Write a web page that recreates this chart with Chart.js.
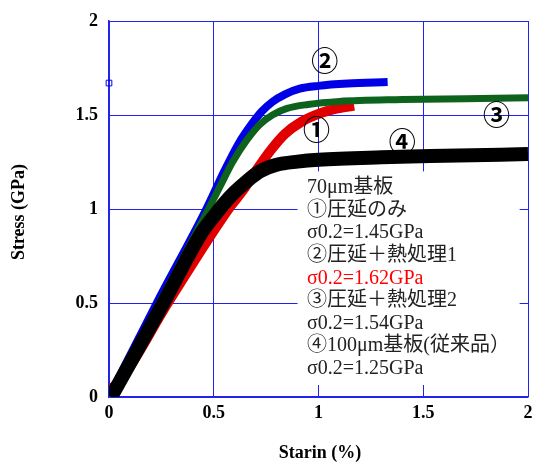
<!DOCTYPE html>
<html>
<head>
<meta charset="utf-8">
<script src="https://cdn.jsdelivr.net/npm/chart.js"></script>
<style>
  html, body { margin: 0; padding: 0; background: #fff; }
  #wrap { width: 533px; height: 462px; }
</style>
</head>
<body>
<div id="wrap"><canvas id="ss-chart"></canvas></div>

<script>
// stress-strain curves, [strain %, stress GPa]
var curve1 = [[0,0.04],[0.04,0.07],[0.28,0.5],[0.57,1.0],[0.64,1.1],[0.70,1.2],[0.77,1.31],[0.84,1.4],[0.92,1.465],[1.01,1.51],[1.09,1.535],[1.17,1.55]];
var curve2 = [[0,0],[0.228,0.5],[0.465,1.0],[0.55,1.2],[0.62,1.35],[0.68,1.45],[0.73,1.52],[0.78,1.57],[0.84,1.61],[0.91,1.64],[1.0,1.655],[1.14,1.667],[1.33,1.675]];
var curve3 = [[0.005,0],[0.24,0.5],[0.475,1.0],[0.53,1.12],[0.59,1.25],[0.66,1.37],[0.72,1.45],[0.78,1.5],[0.85,1.535],[0.95,1.556],[1.1,1.572],[1.4,1.582],[1.7,1.587],[2.0,1.592]];
var curve4 = [[0.01,0],[0.26,0.5],[0.44,0.87],[0.5,0.96],[0.55,1.03],[0.6,1.09],[0.66,1.15],[0.72,1.2],[0.8,1.235],[0.9,1.252],[1.0,1.262],[1.3,1.275],[1.6,1.283],[2.0,1.292]];
var marker2 = [[0,1.67]];

var xTicks = [0, 0.5, 1, 1.5, 2];
var yTicks = [0, 0.5, 1, 1.5, 2];

// circled curve numbers and where they sit [x, y]
var curveTags = ["①", "②", "③", "④"];
var tagPos = [[0.99,1.42],[1.03,1.79],[1.85,1.50],[1.40,1.36]];

var noteLines = ["70μm基板", "①圧延のみ", "σ0.2=1.45GPa", "②圧延＋熱処理1", "σ0.2=1.62GPa",
                 "③圧延＋熱処理2", "σ0.2=1.54GPa", "④100μm基板(従来品）", "σ0.2=1.25GPa"];
var noteColors = ["#222","#222","#222","#222","#ff0000","#222","#222","#222","#222"];

var gridBlue = "#2222ee";

function toPts(arr) {
  return arr.map(function (p) { return { x: p[0], y: p[1] }; });
}

var overlay = {
  id: "overlay",
  beforeDatasetsDraw: function (chart) {
    var c = chart.ctx, xs = chart.scales.x, ys = chart.scales.y;
    // white box behind the notes
    var l = xs.getPixelForValue(0.9), r = xs.getPixelForValue(1.96);
    var t = ys.getPixelForValue(1.2), b = ys.getPixelForValue(0.064);
    c.save();
    c.fillStyle = "#fff";
    c.fillRect(l, t, r - l, b - t);
    c.restore();
  },
  afterDatasetsDraw: function (chart) {
    var c = chart.ctx, xs = chart.scales.x, ys = chart.scales.y;
    c.save();
    c.textBaseline = "middle";
    c.textAlign = "center";
    c.fillStyle = "#000";
    c.font = "bold 27px 'Noto Sans CJK JP'";
    curveTags.forEach(function (s, i) {
      c.fillText(s, xs.getPixelForValue(tagPos[i][0]), ys.getPixelForValue(tagPos[i][1]));
    });

    c.textAlign = "left";
    c.font = "20px 'Liberation Serif', 'Noto Sans CJK JP'";
    var x0 = xs.getPixelForValue(0.945), y0 = 188;
    noteLines.forEach(function (s, i) {
      c.fillStyle = noteColors[i];
      c.fillText(s, x0, y0 + i * 22.6);
    });

    // axis titles
    c.fillStyle = "#000";
    c.textAlign = "center";
    c.font = "bold 18px 'Liberation Serif'";
    c.fillText("Starin (%)", 320, 453);
    c.translate(19, 212);
    c.rotate(-Math.PI / 2);
    c.fillText("Stress (GPa)", 0, 0);
    c.restore();
  }
};

function line(data, color, width, order) {
  return {
    data: toPts(data),
    borderColor: color,
    backgroundColor: color,
    borderWidth: width,
    showLine: true,
    pointRadius: 0,
    tension: 0.4,
    cubicInterpolationMode: "monotone",
    borderCapStyle: "butt",
    order: order
  };
}

var ctx = document.getElementById("ss-chart");
var chart = new Chart(ctx, {
  type: "scatter",
  data: {
    datasets: [
      line(curve4, "#000000", 14, 0),
      line(curve3, "#0d621c", 7, 1),
      line(curve2, "#0000e6", 8, 2),
      line(curve1, "#e00000", 10, 3),
      {
        data: toPts(marker2),
        pointStyle: "rect",
        pointRadius: 4,
        borderColor: "#0000e6",
        backgroundColor: "rgba(0,0,0,0)",
        borderWidth: 1,
        clip: false,
        order: 4
      }
    ]
  },
  options: {
    responsive: true,
    maintainAspectRatio: false,
    animation: false,
    layout: { padding: { left: 0, top: 21, right: 5, bottom: 0 } },
    plugins: { legend: { display: false }, tooltip: { enabled: false } },
    scales: {
      x: {
        type: "linear",
        min: 0, max: 2,
        afterBuildTicks: function (s) { s.ticks = xTicks.map(function (v) { return { value: v }; }); },
        afterFit: function (s) { s.height = 65; s.paddingLeft = 0; s.paddingRight = 0; },
        grid: { color: gridBlue, lineWidth: 1, drawTicks: false },
        border: { color: gridBlue, width: 1.5 },
        ticks: {
          padding: 6,
          color: "#000",
          maxRotation: 0,
          callback: function (v) { return String(v); },
          font: { family: "'Liberation Serif'", size: 18, weight: "bold" }
        }
      },
      y: {
        type: "linear",
        min: 0, max: 2,
        afterBuildTicks: function (s) { s.ticks = yTicks.map(function (v) { return { value: v }; }); },
        afterFit: function (s) { s.width = 109; s.paddingTop = 0; s.paddingBottom = 0; },
        grid: { color: gridBlue, lineWidth: 1, drawTicks: false },
        border: { color: gridBlue, width: 1.5 },
        ticks: {
          padding: 11,
          color: "#000",
          callback: function (v) { return String(v); },
          font: { family: "'Liberation Serif'", size: 18, weight: "bold" }
        }
      }
    }
  },
  plugins: [overlay]
});
</script>
</body>
</html>
